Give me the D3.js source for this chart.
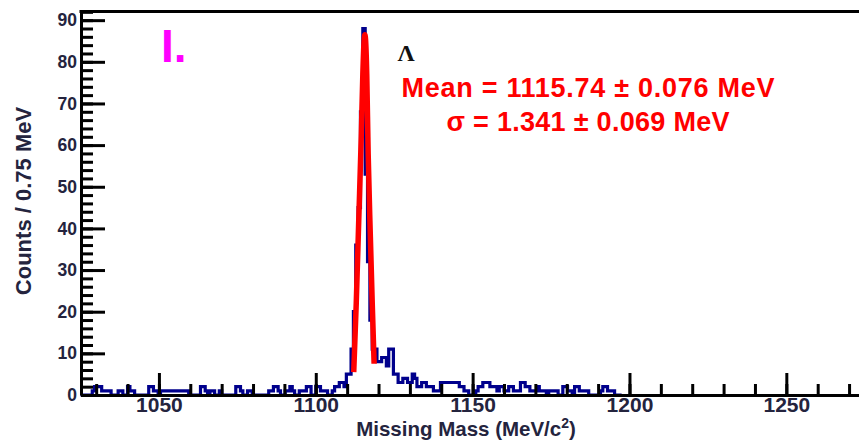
<!DOCTYPE html>
<html>

<head>
    <meta charset="utf-8">
    <title>Missing Mass - Lambda peak</title>
    <style>
        body { margin: 0; background: #fff; }
        text { font-family: "Liberation Sans", Arial, sans-serif; font-weight: bold; }
        .hist { fill: none; stroke: #00008c; stroke-width: 3.2; }
        .fit { fill: none; stroke: #ff0000; stroke-width: 5.5; stroke-linejoin: round; }
        .axis text { fill: #24243e; }
    </style>
    <script src="https://cdn.jsdelivr.net/npm/d3@7"></script>
</head>

<body>
    <script>
        // histogram: counts per 0.75 MeV bin, starting at 1025 MeV
        var binStart = 1025,
            binWidth = 0.75;
        var counts = [
            0, 0, 0, 0, 0, 1, 2, 2, 2, 1, 1, 1, 1, 0, 0, 0, 1, 1, 0, 0,
            2, 1, 1, 0, 0, 0, 0, 0, 0, 2, 2, 1, 1, 0, 1, 1, 1, 1, 1, 1,
            1, 1, 1, 1, 1, 1, 0, 0, 0, 0, 0, 2, 2, 1, 0, 1, 1, 0, 0, 1,
            0, 0, 0, 0, 0, 0, 2, 2, 1, 0, 0, 1, 1, 0, 0, 0, 0, 0, 0, 0,
            1, 1, 2, 2, 1, 0, 0, 1, 1, 2, 1, 0, 0, 1, 1, 1, 2, 2, 0, 0,
            2, 2, 1, 1, 1, 0, 0, 1, 2, 2, 3, 3, 2, 5, 5, 11, 20, 36, 45, 68,
            88, 53, 32, 18, 11, 11, 8, 8, 9, 9, 7, 11, 11, 5, 5, 3, 3, 4, 4, 3,
            3, 5, 4, 2, 2, 3, 3, 2, 2, 2, 1, 1, 1, 3, 3, 3, 3, 3, 3, 3,
            3, 2, 2, 1, 1, 0, 0, 0, 1, 2, 2, 3, 3, 3, 2, 2, 2, 1, 2, 2,
            1, 1, 2, 2, 1, 1, 1, 3, 3, 2, 2, 1, 1, 1, 2, 1, 1, 1, 0, 1,
            1, 1, 1, 0, 0, 2, 2, 1, 1, 0, 2, 2, 1, 1, 1, 1, 0, 0, 0, 0,
            0, 1, 2, 2, 1, 1, 1, 0, 0, 0
        ];

        // gaussian fit curve as drawn (mass in MeV, counts)
        var fitMass = [1112.1, 1112.9, 1113.7, 1114.5, 1115.0, 1115.4, 1115.65, 1115.9, 1116.25, 1116.7, 1117.4, 1118.0, 1118.6];
        var fitCounts = [5.5, 22, 42, 62, 77, 85, 86.5, 85, 77, 58, 38, 22, 7.5];

        var xMajor = [1050, 1100, 1150, 1200, 1250];
        var yMajor = [0, 10, 20, 30, 40, 50, 60, 70, 80, 90];

        var W = 859, H = 440;
        var svg = d3.select("body").append("svg")
            .attr("width", W)
            .attr("height", H);

        var x = d3.scaleLinear().domain([1025, 1275]).range([80.5, 80.5 + 250 * 3.137]);
        var y = d3.scaleLinear().domain([0, 92.2]).range([395, 11]);

        // histogram as a step line
        var steps = counts.map(function(c, i) {
            return [binStart + i * binWidth, c];
        });
        steps.push([binStart + counts.length * binWidth, 0]);
        var stepLine = d3.line()
            .x(function(d) { return x(d[0]); })
            .y(function(d) { return y(d[1]); })
            .curve(d3.curveStepAfter);
        svg.append("path")
            .attr("class", "hist")
            .attr("d", stepLine([[binStart, 0]].concat(steps)));

        // fit
        var fitLine = d3.line()
            .x(function(d) { return x(d[0]); })
            .y(function(d) { return y(d[1]); })
            .curve(d3.curveMonotoneX);
        svg.append("path")
            .attr("class", "fit")
            .attr("d", fitLine(fitMass.map(function(m, i) { return [m, fitCounts[i]]; })));

        function thick(g) {
            g.selectAll("line").style("stroke", "#000").style("stroke-width", "3px");
            g.selectAll("path").style("stroke", "#000").style("stroke-width", "3px");
        }

        // minor ticks
        svg.append("g")
            .attr("class", "axis")
            .attr("transform", "translate(0,395)")
            .call(d3.axisBottom(x).tickValues(d3.range(1030, 1275, 10)).tickSize(-11).tickSizeOuter(0).tickFormat(""))
            .call(thick)
            .select(".domain").remove();
        svg.append("g")
            .attr("class", "axis")
            .attr("transform", "translate(81,0)")
            .call(d3.axisLeft(y).tickValues(d3.range(2, 93, 2)).tickSize(-12).tickSizeOuter(0).tickFormat(""))
            .call(thick)
            .select(".domain").remove();

        // x axis
        var gx = svg.append("g")
            .attr("class", "axis")
            .attr("transform", "translate(0,395)")
            .call(d3.axisBottom(x).tickValues(xMajor).tickSize(-22).tickSizeOuter(0).tickPadding(2).tickFormat(d3.format("d")))
            .call(thick);
        gx.selectAll("text").style("font-size", "21px");

        // y axis
        var gy = svg.append("g")
            .attr("class", "axis")
            .attr("transform", "translate(81,0)")
            .call(d3.axisLeft(y).tickValues(yMajor).tickSize(-24).tickSizeOuter(0).tickPadding(4))
            .call(thick);
        gy.selectAll("text").style("font-size", "17.5px");

        // top frame
        svg.append("line")
            .attr("x1", 79.5).attr("x2", W)
            .attr("y1", 11.5).attr("y2", 11.5)
            .attr("stroke", "#000").attr("stroke-width", 3);

        // axis titles
        var xt = svg.append("text")
            .attr("x", 466).attr("y", 435.5)
            .attr("text-anchor", "middle")
            .style("font-size", "20.5px")
            .attr("fill", "#24243e");
        xt.append("tspan").text("Missing Mass (MeV/c");
        xt.append("tspan").attr("dy", -8).style("font-size", "14px").text("2");
        xt.append("tspan").attr("dy", 8).text(")");

        svg.append("text")
            .attr("transform", "translate(31,201) rotate(-90)")
            .attr("text-anchor", "middle")
            .style("font-size", "22px")
            .attr("fill", "#24243e")
            .text("Counts / 0.75 MeV");

        // annotations
        svg.append("text")
            .attr("x", 161).attr("y", 62)
            .style("font-size", "46px")
            .attr("fill", "#ff00ff")
            .text("I.");

        svg.append("text")
            .attr("x", 406).attr("y", 61)
            .attr("text-anchor", "middle")
            .style("font-family", "'Liberation Serif', 'Times New Roman', serif")
            .style("font-size", "24px")
            .attr("fill", "#111")
            .text("Λ");

        svg.append("text")
            .attr("x", 588).attr("y", 97)
            .attr("text-anchor", "middle")
            .attr("textLength", 373)
            .style("font-size", "27px")
            .attr("fill", "#ff0000")
            .text("Mean = 1115.74 ± 0.076 MeV");

        svg.append("text")
            .attr("x", 588).attr("y", 131)
            .attr("text-anchor", "middle")
            .attr("textLength", 283)
            .style("font-size", "27px")
            .attr("fill", "#ff0000")
            .text("σ = 1.341 ± 0.069 MeV");
    </script>
</body>

</html>
